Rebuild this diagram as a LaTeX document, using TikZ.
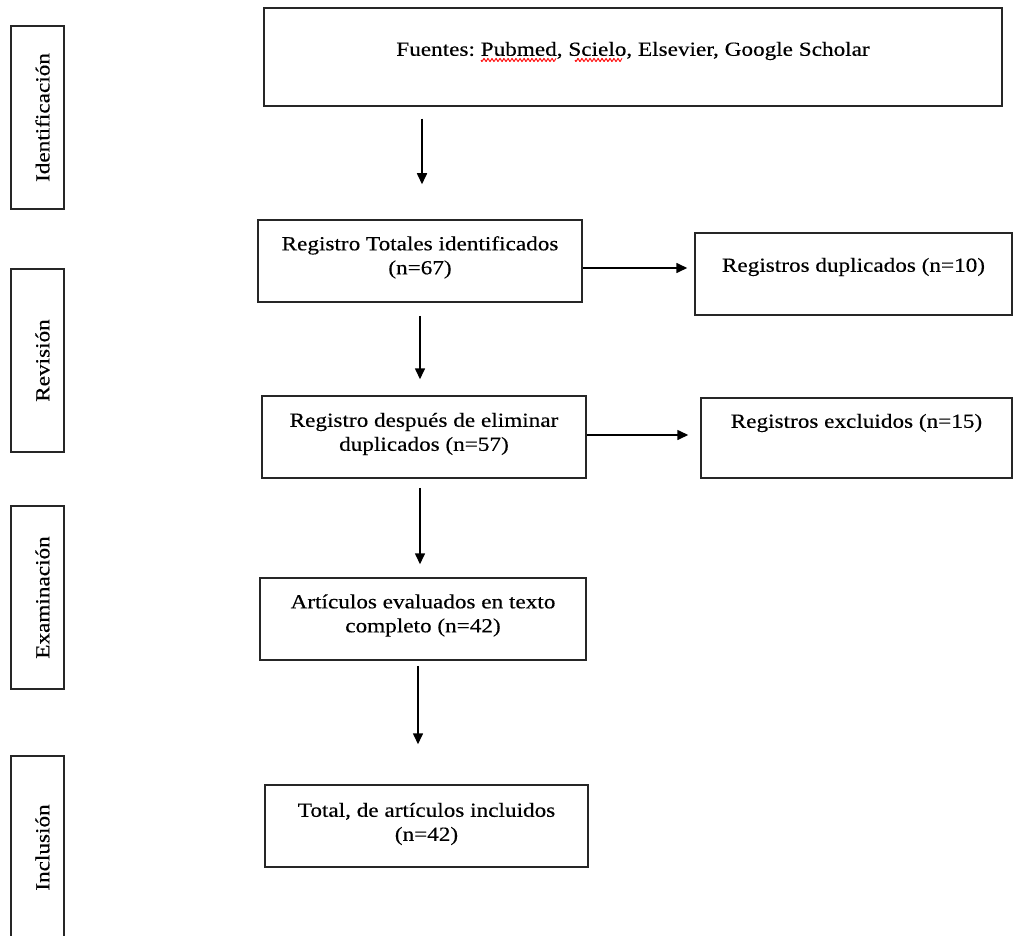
\documentclass[tikz,border=0pt]{standalone}
\usepackage{fontspec}
\setmainfont{Liberation Serif}[FakeStretch=1.16, FakeBold=0.35]
\usetikzlibrary{arrows.meta}
\newcommand\rz[2]{\raisebox{#1}[\height][\depth]{#2}}
\newcommand\twol[2]{\begin{tabular}{@{}c@{}}#1\\#2\end{tabular}}
\newcommand\bigfont{\fontsize{20}{24}\selectfont\frenchspacing}
\begin{document}
\begin{tikzpicture}[x=1pt,y=-1pt,
  box/.style={draw=black!85, line width=1.5pt, inner sep=0pt, font=\bigfont},
  side/.style={box, rotate=90, minimum width=183pt, minimum height=53pt},
  arr/.style={-{Triangle[length=11pt,width=10pt]}, line width=1.6pt},
  wave/.style={red, line width=0.9pt}]
\useasboundingbox (0,0) rectangle (1015,936);
\fill[white] (0,0) rectangle (1015,936);

\node[side] (s1) at (37.5,117.5) {\rz{-5pt}{Identificación}};
\node[side] (s2) at (37.5,360.5) {\rz{-5pt}{Revisión}};
\node[side] (s3) at (37.5,597.5) {\rz{-5pt}{Examinación}};
\node[side] (s4) at (37.5,847.5) {\rz{-5pt}{Inclusión}};

\node[box, minimum width=738pt, minimum height=98pt] (src) at (633,57)
  {\rz{6pt}{Fuentes: Pubmed, Scielo, Elsevier, Google Scholar}};
\node[box, minimum width=324pt, minimum height=82pt] (tot) at (420,261)
  {\rz{3.5pt}{\twol{Registro Totales identificados}{(n=67)}}};
\node[box, minimum width=317pt, minimum height=82pt] (dup) at (853.5,274)
  {\rz{7pt}{Registros duplicados (n=10)}};
\node[box, minimum width=324pt, minimum height=82pt] (rev) at (424,437)
  {\rz{3pt}{\twol{Registro después de eliminar}{duplicados (n=57)}}};
\node[box, minimum width=311pt, minimum height=80pt] (exc) at (856.5,438)
  {\rz{15pt}{Registros excluidos (n=15)}};
\node[box, minimum width=326pt, minimum height=82pt] (art) at (423,619)
  {\rz{3.5pt}{\twol{Artículos evaluados en texto}{completo (n=42)}}};
\node[box, minimum width=323pt, minimum height=82pt] (inc) at (426.5,826)
  {\rz{2pt}{\twol{Total, de artículos incluidos}{(n=42)}}};

% spell-check waves under Pubmed and Scielo
\draw[wave] plot[domain=481:556, samples=100, smooth] (\x, {60+1.5*sin(90*(\x-481))});
\draw[wave] plot[domain=575:622, samples=70, smooth] (\x, {60+1.5*sin(90*(\x-575))});

\draw[arr, shorten <=12pt, shorten >=35pt] ([xshift=2pt]tot.north |- src.south) -- ([xshift=2pt]tot.north);
\draw[arr, shorten >=7pt] ([yshift=-7pt]tot.east) -- ([yshift=-7pt]tot.east -| dup.west);
\draw[arr, shorten <=13pt, shorten >=16pt] (tot.south) -- (tot.south |- rev.north);
\draw[arr, shorten >=12pt] ([yshift=2pt]rev.east) -- ([yshift=2pt]rev.east -| exc.west);
\draw[arr, shorten <=9pt, shorten >=13pt] ([xshift=-4pt]rev.south) -- ([xshift=-4pt]rev.south |- art.north);
\draw[arr, shorten <=5pt, shorten >=40pt] ([xshift=-5pt]art.south) -- ([xshift=-5pt]art.south |- inc.north);
\end{tikzpicture}
\end{document}
